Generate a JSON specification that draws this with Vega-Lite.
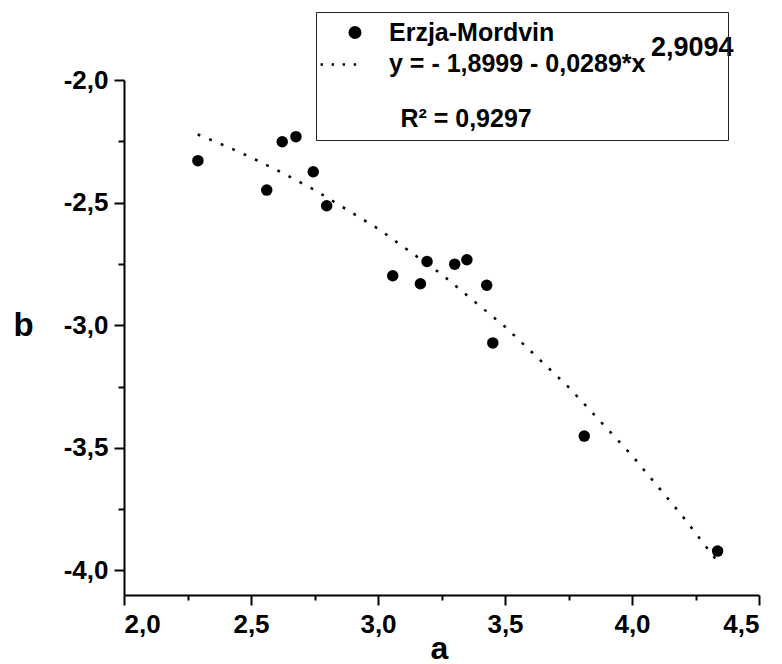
{
  "$schema": "https://vega.github.io/schema/vega-lite/v6.json",
  "width": 635,
  "height": 515,
  "autosize": {"type": "none"},
  "padding": {"left": 124, "top": 80, "right": 23, "bottom": 69},
  "background": "white",
  "datasets": {
    "points": [
      {"a": 2.291, "b": -2.329, "series": "Erzja-Mordvin"},
      {"a": 2.562, "b": -2.449, "series": "Erzja-Mordvin"},
      {"a": 2.623, "b": -2.252, "series": "Erzja-Mordvin"},
      {"a": 2.677, "b": -2.231, "series": "Erzja-Mordvin"},
      {"a": 2.745, "b": -2.374, "series": "Erzja-Mordvin"},
      {"a": 2.798, "b": -2.513, "series": "Erzja-Mordvin"},
      {"a": 3.058, "b": -2.798, "series": "Erzja-Mordvin"},
      {"a": 3.167, "b": -2.831, "series": "Erzja-Mordvin"},
      {"a": 3.193, "b": -2.740, "series": "Erzja-Mordvin"},
      {"a": 3.302, "b": -2.751, "series": "Erzja-Mordvin"},
      {"a": 3.350, "b": -2.733, "series": "Erzja-Mordvin"},
      {"a": 3.428, "b": -2.837, "series": "Erzja-Mordvin"},
      {"a": 3.452, "b": -3.072, "series": "Erzja-Mordvin"},
      {"a": 3.812, "b": -3.452, "series": "Erzja-Mordvin"},
      {"a": 4.337, "b": -3.921, "series": "Erzja-Mordvin"}
    ],
    "fit": [
      {"a": 2.29, "b": -2.222},
      {"a": 2.4, "b": -2.269},
      {"a": 2.5, "b": -2.3155},
      {"a": 2.6, "b": -2.366},
      {"a": 2.75, "b": -2.448},
      {"a": 3.0, "b": -2.606},
      {"a": 3.25, "b": -2.792},
      {"a": 3.5, "b": -3.006},
      {"a": 3.75, "b": -3.252},
      {"a": 4.0, "b": -3.531},
      {"a": 4.2, "b": -3.780},
      {"a": 4.34, "b": -3.968}
    ]
  },
  "config": {
    "font": "Liberation Sans",
    "view": {"stroke": null},
    "axis": {
      "grid": false,
      "labelFont": "Liberation Sans",
      "labelFontWeight": "bold",
      "labelFontSize": 26,
      "labelColor": "black",
      "domainColor": "black",
      "domainWidth": 2,
      "tickColor": "black",
      "tickWidth": 2,
      "titleFont": "Liberation Sans",
      "titleFontWeight": "bold",
      "titleColor": "black"
    }
  },
  "resolve": {"axis": {"x": "independent", "y": "independent"}},
  "layer": [
    {
      "data": {"name": "fit"},
      "mark": {"type": "line", "strokeWidth": 2.5, "strokeDash": [2.8, 9.7], "clip": false},
      "encoding": {
        "x": {
          "field": "a", "type": "quantitative",
          "scale": {"domain": [2.0, 4.5], "nice": false, "zero": false},
          "axis": {"orient": "bottom", "values": [2.25, 2.75, 3.25, 3.75, 4.25], "labels": false, "domain": false, "tickSize": 5, "title": null}
        },
        "y": {
          "field": "b", "type": "quantitative",
          "scale": {"domain": [-4.1, -2.0], "nice": false, "zero": false},
          "axis": {"orient": "left", "values": [-3.75, -3.25, -2.75, -2.25], "labels": false, "domain": false, "tickSize": 6, "title": null}
        },
        "color": {
          "datum": "2,9094", "type": "nominal",
          "scale": {"range": ["black"]},
          "legend": {
            "orient": "none",
            "legendX": 500,
            "legendY": -46,
            "title": null,
            "padding": 0,
            "symbolSize": 0,
            "symbolOpacity": 0,
            "symbolStrokeWidth": 0,
            "labelOffset": 0,
            "labelFont": "Liberation Sans",
            "labelFontSize": 27,
            "labelFontWeight": "bold",
            "labelColor": "black",
            "labelLimit": 1000
          }
        }
      }
    },
    {
      "data": {"name": "points"},
      "mark": {"type": "point", "filled": true, "color": "black", "size": 132, "opacity": 1},
      "encoding": {
        "x": {
          "field": "a", "type": "quantitative",
          "scale": {"domain": [2.0, 4.5], "nice": false, "zero": false},
          "axis": {
            "orient": "bottom",
            "values": [2.0, 2.5, 3.0, 3.5, 4.0, 4.5],
            "tickSize": 10,
            "labelPadding": 6,
            "labelExpr": "replace(replace(format(datum.value, '.1f'), '.', ','), '\u2212', '-')",
            "title": "a",
            "titleFontSize": 32,
            "titleAlign": "center",
            "titleBaseline": "alphabetic",
            "titleX": 315,
            "titleY": 63
          }
        },
        "y": {
          "field": "b", "type": "quantitative",
          "scale": {"domain": [-4.1, -2.0], "nice": false, "zero": false},
          "axis": {
            "orient": "left",
            "values": [-4.0, -3.5, -3.0, -2.5, -2.0],
            "tickSize": 10,
            "labelPadding": 6,
            "labelExpr": "replace(replace(format(datum.value, '.1f'), '.', ','), '\u2212', '-')",
            "title": "b",
            "titleFontSize": 33,
            "titleAngle": 0,
            "titleAlign": "center",
            "titleBaseline": "middle",
            "titleX": -101,
            "titleY": 245
          }
        },
        "shape": {
          "field": "series", "type": "nominal",
          "scale": {
            "domain": ["Erzja-Mordvin", "y = - 1,8999 - 0,0289*x"],
            "range": ["circle", "M-5.3,-0.05h0.37v0.385h-0.37ZM-3.6,-0.05h0.37v0.385h-0.37ZM-1.9,-0.05h0.37v0.385h-0.37ZM-0.2,-0.05h0.37v0.385h-0.37Z"]
          },
          "legend": {
            "orient": "none",
            "legendX": 192,
            "legendY": -68,
            "title": "\u200b\u00a0\u00a0\u00a0\u00a0\u00a0\u00a0\u00a0\u00a0\u00a0\u00a0\u00a0R² = 0,9297\u00a0\u00a0\u00a0\u00a0\u00a0\u00a0\u00a0\u00a0\u00a0\u00a0\u00a0\u00a0\u00a0\u00a0\u00a0\u00a0\u00a0\u00a0\u00a0\u00a0\u00a0\u00a0\u00a0\u00a0\u00a0\u00a0\u00a0\u200b",
            "titleOrient": "bottom",
            "titleAnchor": "start",
            "titleFont": "Liberation Sans",
            "titleFontSize": 25,
            "titleFontWeight": "bold",
            "titleColor": "black",
            "titleLimit": 1000,
            "titlePadding": 30,
            "labelFont": "Liberation Sans",
            "labelFontSize": 25,
            "labelFontWeight": "bold",
            "labelColor": "black",
            "labelLimit": 1000,
            "labelOffset": 21.5,
            "symbolOffset": 18.5,
            "symbolSize": 169,
            "symbolStrokeWidth": 0,
            "symbolFillColor": "black",
            "symbolOpacity": 1,
            "padding": 8,
            "rowPadding": 5,
            "strokeColor": "#222222"
          }
        }
      }
    }
  ]
}
